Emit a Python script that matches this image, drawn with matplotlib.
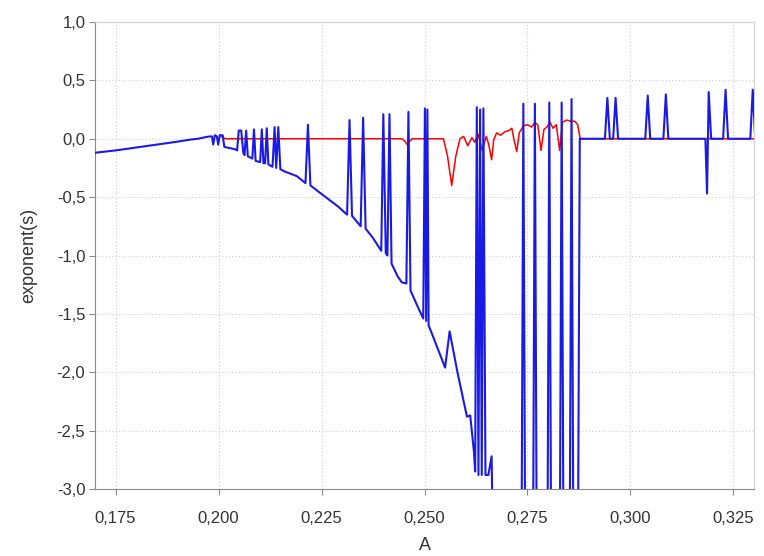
import matplotlib
matplotlib.use("Agg")
import matplotlib.pyplot as plt
from matplotlib.ticker import FuncFormatter, MultipleLocator

plt.rcParams['font.family'] = ['Liberation Sans', 'DejaVu Sans']

# second exponent (blue), values below -3 run off the bottom of the chart
a_blue = [0.1700, 0.1750, 0.1800, 0.1850, 0.1900, 0.1930, 0.1950, 0.1970, 0.1980,
          0.1984, 0.1987, 0.1991, 0.1996, 0.1999, 0.2003, 0.2010, 0.2014, 0.2040,
          0.2045, 0.2049, 0.2055, 0.2060, 0.2063, 0.2067, 0.2071, 0.2082, 0.2086, 0.2090,
          0.2101, 0.2105, 0.2109, 0.2113, 0.2117, 0.2121, 0.2131, 0.2136, 0.2140, 0.2145, 0.2150,
          0.2160, 0.2190, 0.2211, 0.2217, 0.2223, 0.2260, 0.2290, 0.2312, 0.2318, 0.2324,
          0.2345, 0.2351, 0.2357, 0.2375, 0.2395, 0.2400, 0.2406, 0.2410, 0.2415, 0.2420,
          0.2435, 0.2445, 0.2456, 0.2461, 0.2466, 0.2485, 0.2497, 0.2501, 0.2504, 0.2507, 0.2510,
          0.2517, 0.2550, 0.2561, 0.2580, 0.2603, 0.2611, 0.2620, 0.2623, 0.2627, 0.2631,
          0.2635, 0.2639, 0.2643, 0.2648, 0.2655, 0.2663, 0.2668,
          0.2735, 0.2740, 0.2745, 0.2763, 0.2768, 0.2773, 0.2798, 0.2803, 0.2808,
          0.2828, 0.2833, 0.2838, 0.2852, 0.2857, 0.2862, 0.2872, 0.2877,
          0.2938, 0.2944, 0.2950, 0.2958, 0.2964, 0.2970, 0.3036, 0.3042, 0.3048,
          0.3080, 0.3086, 0.3092, 0.3182, 0.3186, 0.3190, 0.3196, 0.3225, 0.3231, 0.3237,
          0.3291, 0.3297, 0.3303]
exp_blue = [-0.12, -0.10, -0.075, -0.05, -0.025, -0.008, 0.0, 0.015, 0.02,
            0.02, -0.05, 0.03, 0.02, -0.05, 0.03, 0.03, -0.07, -0.09,
            -0.10, 0.07, 0.07, -0.12, -0.14, 0.07, -0.15, -0.17, 0.08, -0.19,
            -0.20, 0.08, -0.21, -0.21, 0.09, -0.22, -0.24, 0.10, -0.25, 0.10, -0.26,
            -0.28, -0.32, -0.38, 0.12, -0.40, -0.50, -0.58, -0.65, 0.16, -0.66,
            -0.75, 0.18, -0.77, -0.85, -0.96, 0.21, -0.98, -1.00, 0.21, -1.07,
            -1.18, -1.23, -1.24, 0.23, -1.30, -1.45, -1.54, 0.26, -1.56, 0.25, -1.60,
            -1.66, -1.96, -1.65, -2.00, -2.38, -2.37, -2.68, -2.85, 0.27, -2.88,
            0.25, -2.88, 0.26, -2.88, -2.88, -2.72, -4.0,
            -4.0, 0.30, -4.0, -4.0, 0.30, -4.0, -4.0, 0.31, -4.0,
            -4.0, 0.31, -4.0, -4.0, 0.34, -4.0, -4.0, 0.0,
            0.0, 0.35, 0.0, 0.0, 0.35, 0.0, 0.0, 0.37, 0.0,
            0.0, 0.38, 0.0, 0.0, -0.47, 0.40, 0.0, 0.0, 0.42, 0.0,
            0.0, 0.42, 0.0]

# largest exponent (red)
a_red = [0.2003, 0.2016, 0.2445, 0.2452, 0.2458, 0.2464, 0.2470, 0.2546, 0.2556,
         0.2566, 0.2576, 0.2586, 0.2595, 0.2605, 0.2615, 0.2622, 0.2630, 0.2640,
         0.2650, 0.2656, 0.2663, 0.2668, 0.2675, 0.2685, 0.2695, 0.2705, 0.2712,
         0.2718, 0.2724, 0.2730, 0.2740, 0.2750, 0.2760, 0.2768, 0.2775, 0.2783,
         0.2790, 0.2797, 0.2805, 0.2812, 0.2820, 0.2828, 0.2835, 0.2845, 0.2855,
         0.2865, 0.2872, 0.2878, 0.3303]
exp_red = [0.03, 0.0, 0.0, -0.02, -0.05, -0.02, 0.0, 0.0, -0.15,
           -0.40, -0.15, 0.0, 0.02, -0.06, 0.01, -0.03, 0.04, -0.10,
           0.02, -0.05, -0.18, -0.01, 0.05, 0.03, 0.06, 0.07, 0.09,
           -0.02, -0.11, 0.05, 0.11, 0.12, 0.10, 0.14, 0.12, -0.10,
           0.08, 0.10, 0.14, 0.09, 0.12, -0.10, 0.14, 0.16, 0.15,
           0.15, 0.12, 0.0, 0.0]

fig = plt.figure(figsize=(7.64, 5.56), dpi=100)
ax = fig.add_axes([95 / 764, 67 / 556, 659 / 764, 467 / 556])

ax.plot(a_red, exp_red, color='#ff0000', lw=1.1, zorder=3)
ax.plot(a_blue, exp_blue, color='#1a1ae6', lw=1.5, zorder=4)

ax.set_xlim(0.17, 0.33)
ax.set_ylim(-3.0, 1.0)
ax.xaxis.set_major_locator(MultipleLocator(0.025))
ax.yaxis.set_major_locator(MultipleLocator(0.5))
ax.xaxis.set_major_formatter(FuncFormatter(lambda v, p: f"{v:.3f}".replace('.', ',')))
ax.yaxis.set_major_formatter(FuncFormatter(lambda v, p: f"{v:.1f}".replace('.', ',').replace('-0,0', '0,0')))

ax.grid(True, color='#cfcfcf', linestyle=(0, (1, 2)), lw=0.8)
ax.set_axisbelow(True)
for s in ['left', 'bottom']:
    ax.spines[s].set_color('#8a8a8a')
for s in ['top', 'right']:
    ax.spines[s].set_color('#d0d0d0')
ax.tick_params(colors='#8a8a8a', labelcolor='#333333', labelsize=12, length=4, pad=3)
ax.tick_params(axis='x', pad=12)

ax.set_xlabel("A", fontsize=13, color='#333333', labelpad=8)
ax.set_ylabel("exponent(s)", fontsize=13, color='#333333', labelpad=14)

fig.savefig("out.png", dpi=100)
